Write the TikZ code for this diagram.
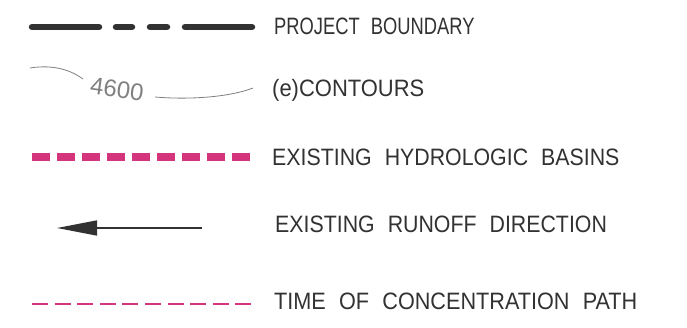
\documentclass[tikz,border=0pt]{standalone}
\usepackage{fontspec}
\setmainfont[FakeStretch=0.9]{Liberation Sans}
\newfontfamily\contourfont{Liberation Sans}
\usetikzlibrary{arrows.meta}
\definecolor{inkgray}{RGB}{50,50,50}
\definecolor{basinpink}{RGB}{212,52,124}
\newcommand\legendfont{\fontsize{23.7}{26}\selectfont\spaceskip 13pt\relax}
\tikzset{
  legendtext/.style={anchor=base west,inner sep=0pt,text=inkgray,font=\legendfont},
  boundary/.style={line width=6.5pt,line cap=round,color=inkgray},
}
\begin{document}
\begin{tikzpicture}[x=1pt,y=-1pt]
    \fill[white] (0,0) rectangle (687,328);
    \useasboundingbox (0,0) rectangle (687,328);
    % project boundary
    \draw[boundary] (32,27)--(99,27);
    \draw[boundary] (116,27)--(132,27);
    \draw[boundary] (150,27)--(167,27);
    \draw[boundary] (185,27)--(252,27);
    \node[legendtext,xscale=0.86](pb) at (274,35) {PROJECT BOUNDARY};
    % contours
    \draw[gray,line width=0.8pt] (30,68) .. controls (55,64) and (72,71) .. (83,79);
    \draw[gray,line width=0.8pt] (155,97) .. controls (190,100) and (230,97) .. (253,88);
    \node[rotate=-8,text=gray,inner sep=0pt,font=\contourfont\fontsize{24}{26}\selectfont](ct) at (117,89) {4600};
    \node[legendtext,xscale=1.03](co) at (272,97) {(e)CONTOURS};
    % basins
    \draw[basinpink,line width=8pt,dash pattern=on 18pt off 7pt] (32,157)--(250,157);
    \node[legendtext](hb) at (272,166) {EXISTING HYDROLOGIC BASINS};
    % runoff
    \coordinate (rs) at (202,228);
    \coordinate (re) at (57,228);
    \draw[inkgray,line width=1.5pt,-{Triangle[length=40pt,width=15pt]}] (rs)--(re);
    \node[legendtext](rd) at (275,233) {EXISTING RUNOFF DIRECTION};
    % tc path
    \draw[basinpink,line width=2.5pt,dash pattern=on 16pt off 6.6pt] (32,304)--(253,304);
    \node[legendtext,xscale=1.015](tc) at (274,309) {TIME OF CONCENTRATION PATH};
\end{tikzpicture}
\end{document}
